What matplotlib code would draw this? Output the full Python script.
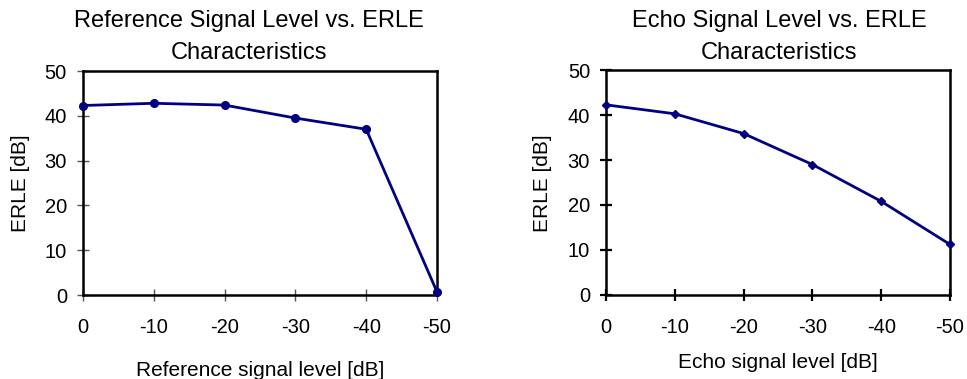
import numpy as np
import matplotlib.pyplot as plt

plt.rcParams['font.family'] = ['Liberation Sans', 'DejaVu Sans']

# signal level [dB]
levels = [0, -10, -20, -30, -40, -50]
# ERLE [dB] vs reference signal level
erle_ref = [42.3, 42.8, 42.4, 39.5, 37.0, 0.7]
# ERLE [dB] vs echo signal level
erle_echo = [42.3, 40.3, 35.9, 29.0, 20.8, 11.2]

yticks = [0, 10, 20, 30, 40, 50]
line_color = '#000080'

fig = plt.figure(figsize=(9.67, 3.79), dpi=100)

panels = [
    dict(rect=[0.0858, 0.2216, 0.3661, 0.5910], y=erle_ref, marker='o', ms=5.5,
         tick_color='#555555', tick_w=1.0,
         title=['Reference Signal Level vs. ERLE', 'Characteristics'],
         title_x=249, xlabel='Reference signal level [dB]', xlabel_y=371,
         ylabel_x=21),
    dict(rect=[0.6267, 0.2224, 0.3557, 0.5922], y=erle_echo, marker='D', ms=4.5,
         tick_color='black', tick_w=1.6,
         title=['Echo Signal Level vs. ERLE', 'Characteristics'],
         title_x=779, xlabel='Echo signal level [dB]', xlabel_y=363,
         ylabel_x=542),
]

W, H = 967.0, 379.0

for p in panels:
    ax = fig.add_axes(p['rect'])
    ax.plot(levels, p['y'], color=line_color, lw=2.0, marker=p['marker'],
            ms=p['ms'], clip_on=False, zorder=5)
    ax.set_xlim(0, -50)
    ax.set_ylim(0, 50)
    ax.set_xticks(levels)
    ax.set_xticklabels([str(v) for v in levels])
    ax.set_yticks(yticks)
    for s in ax.spines.values():
        s.set_linewidth(1.8)
        s.set_color('black')
    ax.tick_params(axis='both', direction='inout', length=9,
                   width=p['tick_w'], color=p['tick_color'], labelsize=14.5)
    ax.tick_params(axis='x', pad=12)
    ax.tick_params(axis='y', pad=7)

    cx = (p['rect'][0] + p['rect'][2] / 2)
    fig.text(p['title_x'] / W, 1 - 21 / H, p['title'][0], ha='center',
             va='center', fontsize=17)
    fig.text(p['title_x'] / W, 1 - 53 / H, p['title'][1], ha='center',
             va='center', fontsize=17)
    fig.text(cx, 1 - p['xlabel_y'] / H, p['xlabel'], ha='center',
             va='center', fontsize=15)
    fig.text(p['ylabel_x'] / W, 1 - 183 / H, 'ERLE [dB]', ha='center',
             va='center', rotation=90, fontsize=15)

fig.savefig('out.png', dpi=100)
